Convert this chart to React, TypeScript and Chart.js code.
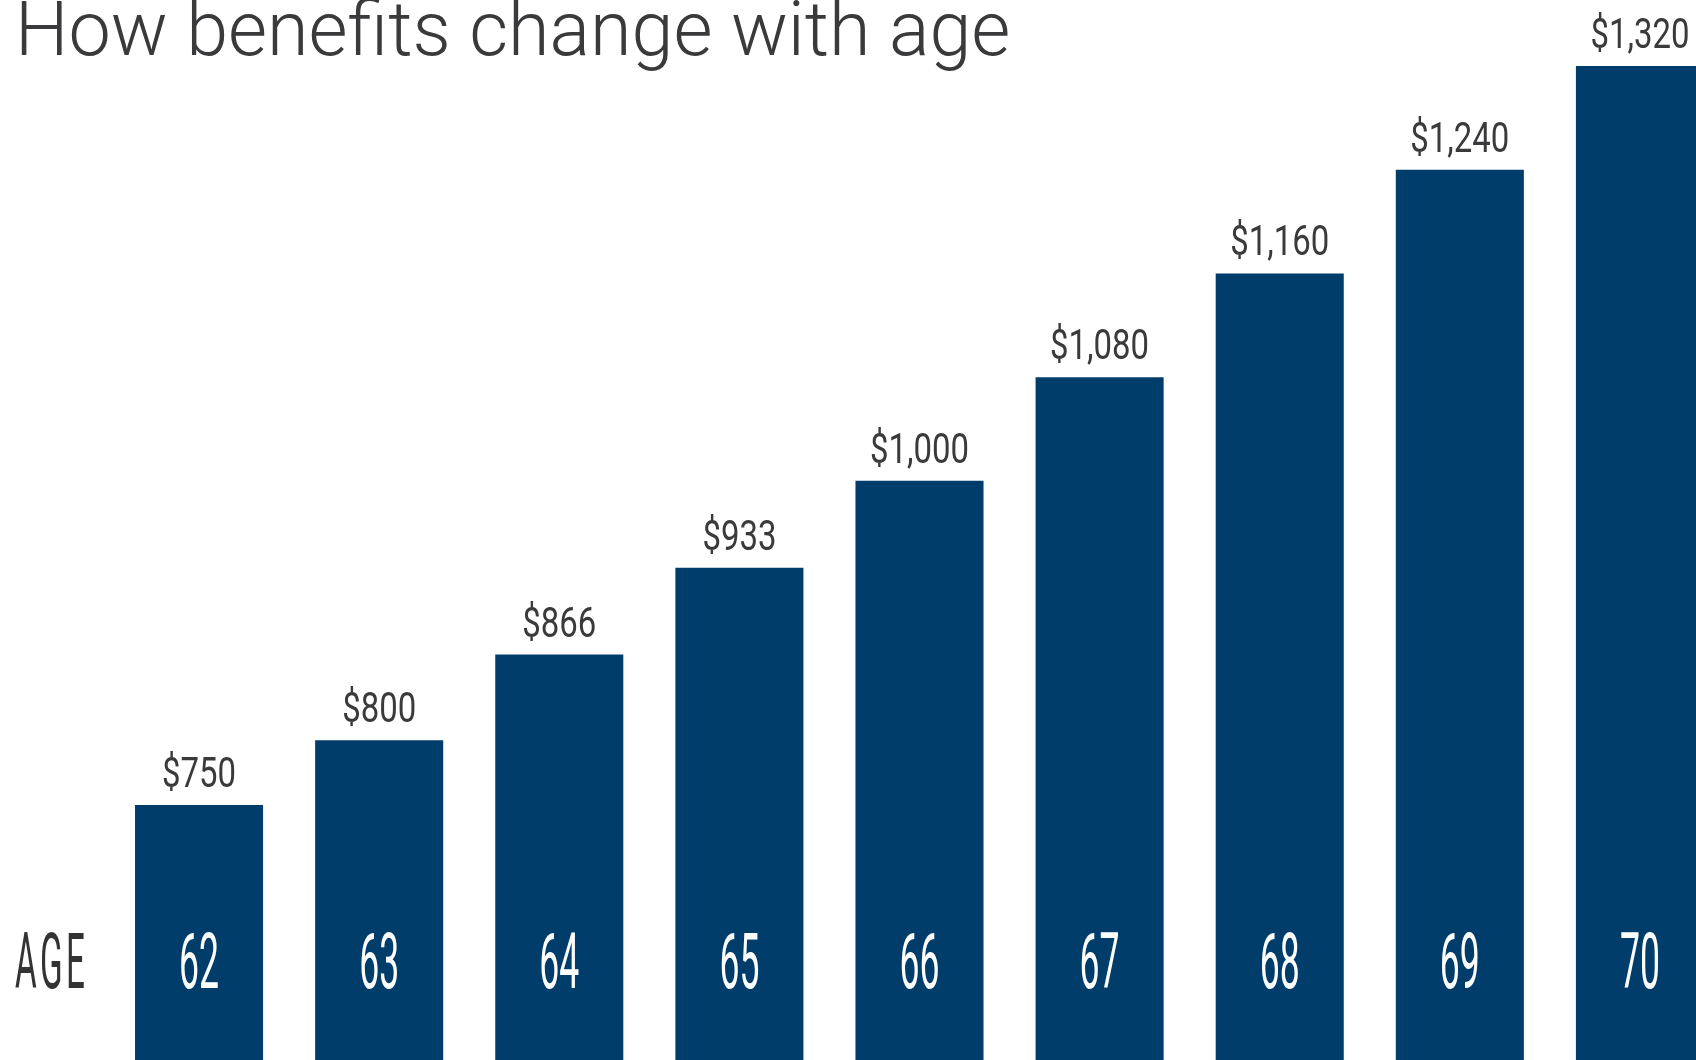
import React, { useEffect, useRef } from 'react';
import { Chart, registerables } from 'chart.js';

Chart.register(...registerables);

const ages = ['62', '63', '64', '65', '66', '67', '68', '69', '70'];
const benefits = [750, 800, 866, 933, 1000, 1080, 1160, 1240, 1320];
const valueLabels = ['$750', '$800', '$866', '$933', '$1,000', '$1,080', '$1,160', '$1,240', '$1,320'];
const titleText = 'How benefits change with age';
const axisLabel = 'AGE';

const BAR_COLOR = '#013d6b';
const TEXT_COLOR = '#3a3a3c';

function drawScaled(ctx: CanvasRenderingContext2D, text: string, x: number, y: number, sx: number) {
  ctx.save();
  ctx.translate(x, y);
  ctx.scale(sx, 1);
  ctx.fillText(text, 0, 0);
  ctx.restore();
}

const labelsPlugin = {
  id: 'labelsPlugin',
  afterDatasetsDraw(chart: any) {
    const ctx: CanvasRenderingContext2D = chart.ctx;
    const meta = chart.getDatasetMeta(0);
    ctx.save();
    ctx.textBaseline = 'alphabetic';

    // value labels above bars
    ctx.font = '400 42px Roboto, sans-serif';
    ctx.fillStyle = TEXT_COLOR;
    ctx.textAlign = 'center';
    const vs = 99 / ctx.measureText('$1,240').width;
    meta.data.forEach((bar: any, i: number) => {
      drawScaled(ctx, valueLabels[i], bar.x, bar.y - 18, vs);
    });

    // age labels inside bars
    const rowBase = 988;
    ctx.font = '400 77px Roboto, sans-serif';
    ctx.fillStyle = '#ffffff';
    const as = 40 / ctx.measureText('62').width;
    meta.data.forEach((bar: any, i: number) => {
      drawScaled(ctx, ages[i], bar.x, rowBase, as);
    });

    // AGE axis label
    ctx.font = '400 77px Roboto, sans-serif';
    ctx.fillStyle = '#333333';
    ctx.textAlign = 'left';
    (ctx as any).letterSpacing = '8px';
    const w = ctx.measureText(axisLabel).width - 8;
    drawScaled(ctx, axisLabel, 15, rowBase, 70 / w);
    (ctx as any).letterSpacing = '0px';

    // title
    ctx.font = '300 75.5px Roboto, sans-serif';
    ctx.fillStyle = TEXT_COLOR;
    ctx.textAlign = 'left';
    ctx.fillText(titleText, 15, 55);
    ctx.restore();
  },
};

export default function App() {
  const canvasRef = useRef<HTMLCanvasElement | null>(null);

  useEffect(() => {
    if (!canvasRef.current) return;
    const chart = new Chart(canvasRef.current, {
      type: 'bar',
      data: {
        labels: ages,
        datasets: [
          {
            data: benefits,
            backgroundColor: BAR_COLOR,
            borderWidth: 0,
            barPercentage: 0.711,
            categoryPercentage: 1,
          },
        ],
      },
      options: {
        responsive: false,
        animation: false,
        layout: { padding: { left: 109, right: 0, top: 0, bottom: 0 } },
        plugins: {
          legend: { display: false },
          tooltip: { enabled: false },
          title: { display: false },
        },
        scales: {
          x: { display: false, grid: { display: false } },
          y: { display: false, min: 553.3, max: 1370.9, grid: { display: false } },
        },
      },
      plugins: [labelsPlugin],
    });
    return () => chart.destroy();
  }, []);

  return (
    <div
      style={{
        position: 'fixed',
        left: 0,
        top: 0,
        width: 1696,
        height: 1060,
        overflow: 'hidden',
        background: '#ffffff',
      }}
    >
      <canvas ref={canvasRef} width={1730} height={1060} style={{ display: 'block', width: 1730, height: 1060 }} />
    </div>
  );
}
